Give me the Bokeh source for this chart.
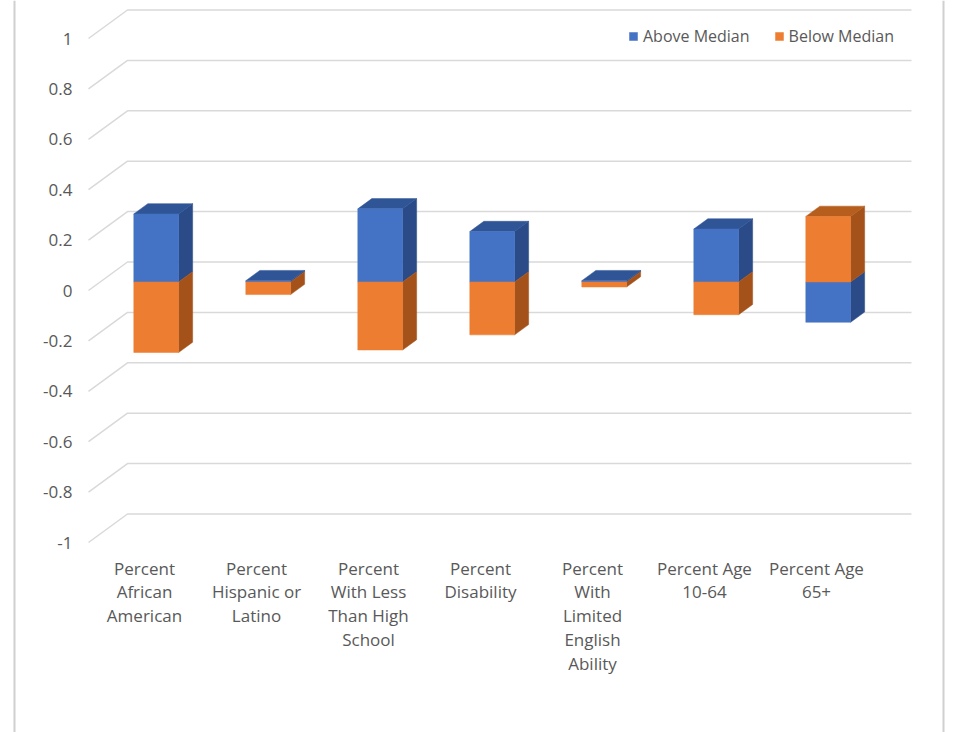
from bokeh.plotting import figure
from bokeh.models import Range1d, Legend, LegendItem, ColumnDataSource
from bokeh.embed import file_html
from bokeh.resources import INLINE
from bokeh.core.properties import value

# ---------------- data ----------------
categories = [
    "Percent African American",
    "Percent Hispanic or Latino",
    "Percent With Less Than High School",
    "Percent Disability",
    "Percent With Limited English Ability",
    "Percent Age 10-64",
    "Percent Age 65+",
]
category_labels = [
    "Percent\nAfrican\nAmerican",
    "Percent\nHispanic or\nLatino",
    "Percent\nWith Less\nThan High\nSchool",
    "Percent\nDisability",
    "Percent\nWith\nLimited\nEnglish\nAbility",
    "Percent Age\n10-64",
    "Percent Age\n65+",
]
series_names = ["Above Median", "Below Median"]
above_median = [0.27, 0.005, 0.29, 0.20, 0.005, 0.21, -0.16]
below_median = [-0.28, -0.05, -0.27, -0.21, -0.02, -0.13, 0.26]
y_ticks = [1.0, 0.8, 0.6, 0.4, 0.2, 0.0, -0.2, -0.4, -0.6, -0.8, -1.0]
y_tick_labels = ["1", "0.8", "0.6", "0.4", "0.2", "0", "-0.2", "-0.4", "-0.6", "-0.8", "-1"]

# ---------------- styling / layout constants ----------------
W, H = 953, 732
X0_PX, SLOT_PX = 88.0, 112.0          # front-left of floor, slot width (px)
ZERO_PX, UNIT_PX = 290.0, 252.0       # front zero line, px per unit
DEPTH_X = 39.0 / SLOT_PX              # full depth offset in data units
DEPTH_Y = 28.5 / UNIT_PX
BAR_F0, BAR_F1 = 0.30, 0.66           # bar front / back depth fractions
BAR_W = 0.40
TEXT = "#595959"
GRID = "#D9D9D9"
FONT = "Open Sans"
front_col = {"Above Median": "#4472C4", "Below Median": "#ED7D31"}
top_col = {"Above Median": "#2F5597", "Below Median": "#B65E1E"}
side_col = {"Above Median": "#2A4B87", "Below Median": "#A4521A"}

def px_x(px):
    return (px - X0_PX) / SLOT_PX

p = figure(
    width=W, height=H, output_backend="svg", toolbar_location=None,
    x_range=Range1d(px_x(0), px_x(W)),
    y_range=Range1d(-(H - ZERO_PX) / UNIT_PX, ZERO_PX / UNIT_PX),
    x_axis_location=None, y_axis_location=None,
    min_border=0, min_border_left=0, min_border_right=0,
    min_border_top=0, min_border_bottom=0,
)
p.outline_line_color = None
p.grid.visible = False
p.xgrid.visible = False
p.ygrid.visible = False
p.background_fill_color = "white"
p.border_fill_color = "white"

# outer card border (left / right edges)
p.segment(x0=[px_x(14), px_x(943)], y0=[p.y_range.start] * 2,
          x1=[px_x(14), px_x(943)], y1=[p.y_range.end] * 2,
          line_color="#D0D0D0", line_width=2)

# ---------------- 3D gridlines ----------------
n = len(categories)
gxs, gys = [], []
for v in y_ticks:
    gxs.append([0.0, DEPTH_X, n + DEPTH_X])
    gys.append([v, v + DEPTH_Y, v + DEPTH_Y])
p.multi_line(xs=gxs, ys=gys, line_color=GRID, line_width=1.5)

# y tick labels on the front edge
p.text(x=[0.0] * len(y_ticks), y=y_ticks, text=y_tick_labels,
       x_offset=-16, text_align="right", text_baseline="middle",
       text_font=value(FONT), text_font_size="17px", text_color=TEXT)

# category labels under the floor
p.text(x=[i + 0.5 for i in range(n)], y=[y_ticks[-1]] * n, text=category_labels,
       y_offset=14, text_align="center", text_baseline="top",
       text_line_height=1.04,
       text_font=value(FONT), text_font_size="17px", text_color=TEXT)

# ---------------- stacked 3D columns ----------------
values = {"Above Median": above_median, "Below Median": below_median}
d0x, d0y = BAR_F0 * DEPTH_X, BAR_F0 * DEPTH_Y
d1x, d1y = BAR_F1 * DEPTH_X, BAR_F1 * DEPTH_Y

side = {"xs": [], "ys": [], "c": []}
top = {"xs": [], "ys": [], "c": []}
front = {s: {"xs": [], "ys": []} for s in series_names}

for i in range(n):
    xl = i + 0.5 - BAR_W / 2
    xr = i + 0.5 + BAR_W / 2
    pos_base, neg_base = 0.0, 0.0
    segs = []
    for s in series_names:
        v = values[s][i]
        if v >= 0:
            b, t = pos_base, pos_base + v
            pos_base = t
        else:
            b, t = neg_base + v, neg_base
            neg_base = b
        segs.append((s, b, t))
    for s, b, t in segs:
        side["xs"].append([xr + d0x, xr + d1x, xr + d1x, xr + d0x])
        side["ys"].append([b + d0y, b + d1y, t + d1y, t + d0y])
        side["c"].append(side_col[s])
        front[s]["xs"].append([xl + d0x, xr + d0x, xr + d0x, xl + d0x])
        front[s]["ys"].append([b + d0y, b + d0y, t + d0y, t + d0y])
    # top face of the highest segment
    s, b, t = max(segs, key=lambda z: (z[2], z[2] - z[1]))
    top["xs"].append([xl + d0x, xr + d0x, xr + d1x, xl + d1x])
    top["ys"].append([t + d0y, t + d0y, t + d1y, t + d1y])
    top["c"].append(top_col[s])

p.patches(xs="xs", ys="ys", fill_color="c", line_color="c", line_width=0.5,
          source=ColumnDataSource(side))
p.patches(xs="xs", ys="ys", fill_color="c", line_color="c", line_width=0.5,
          source=ColumnDataSource(top))
front_renderers = {}
for s in series_names:
    front_renderers[s] = p.patches(xs="xs", ys="ys", fill_color=front_col[s],
                                   line_color=front_col[s], line_width=0.5,
                                   source=ColumnDataSource(front[s]))

legend = Legend(
    items=[LegendItem(label=s, renderers=[front_renderers[s]]) for s in series_names],
    location=(628, H - 47), orientation="horizontal",
    glyph_width=10, glyph_height=10, label_standoff=5, spacing=24,
    padding=0, margin=0, border_line_color=None, background_fill_alpha=0,
    label_text_font=FONT, label_text_font_size="16px", label_text_color=TEXT,
)
p.add_layout(legend)

open("out.html", "w").write(file_html(p, INLINE))
